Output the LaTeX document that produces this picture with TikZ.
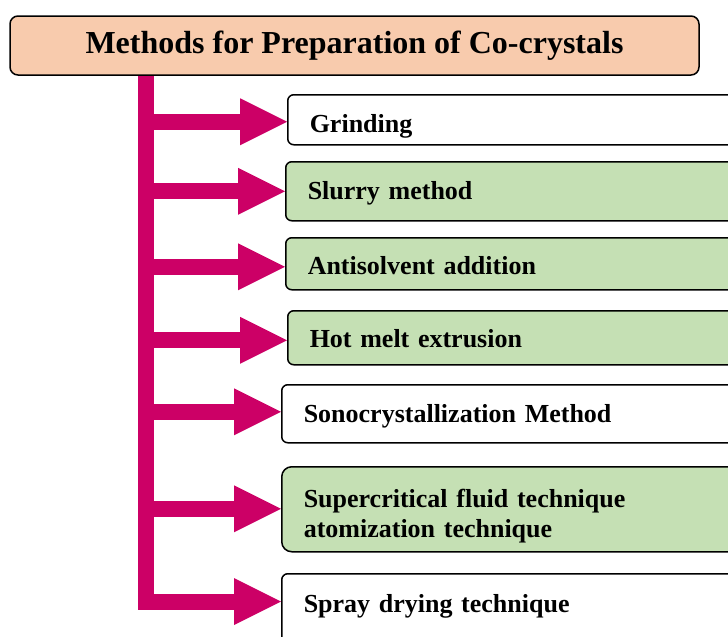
\documentclass[tikz,border=0pt]{standalone}
\usepackage{fontspec}
\setmainfont{Liberation Serif}
\definecolor{titlepeach}{RGB}{248,203,173}
\definecolor{methodgreen}{RGB}{197,224,180}
\definecolor{branchmagenta}{RGB}{204,0,102}
\usetikzlibrary{arrows.meta}

\begin{document}
\begin{tikzpicture}[x=1pt, y=-1pt,
    methodbox/.style={draw=black, line width=1.5pt, rounded corners=6pt,
      anchor=north west, text width=416pt, inner xsep=22pt, inner ysep=0pt,
      text depth=0pt, align=left, font=\fontsize{26}{30}\selectfont\bfseries},
    greenbox/.style={methodbox, fill=methodgreen},
    branch/.style={draw=branchmagenta, line width=16pt, line join=miter,
      -{Triangle[length=47pt, width=47pt, line width=0pt]}}]
    \useasboundingbox (0,0) rectangle (728,637);
    \clip (0,0) rectangle (728,637);

    % Title
    \node[draw=black, line width=1.5pt, fill=titlepeach, rounded corners=8pt,
          minimum width=689pt, minimum height=59pt, inner sep=0pt,
          font=\fontsize{32}{36}\selectfont\bfseries] (title) at (354.5, 45.5)
      {Methods for Preparation of Co-crystals};

    % Methods (boxes run past the right edge)
    \node[methodbox, minimum height=50pt, text height=26pt] (grinding) at (287, 94)
      {Grinding};
    \node[greenbox, minimum height=59pt, text height=17pt] (slurry) at (285, 161)
      {Slurry method};
    \node[greenbox, minimum height=52pt, text height=22pt] (antisolvent) at (285, 237)
      {Antisolvent addition};
    \node[greenbox, minimum height=54pt, text height=20pt] (hotmelt) at (287, 310)
      {Hot melt extrusion};
    \node[methodbox, minimum height=58pt, text height=18pt] (sono) at (281, 384)
      {Sonocrystallization Method};
    \node[greenbox, minimum height=85pt, text height=27pt, text depth=30pt,
          rounded corners=10pt] (supercritical) at (281, 466)
      {Supercritical fluid technique\\atomization technique};
    \node[methodbox, minimum height=70pt, text height=8pt] (spray) at (281, 573)
      {Spray drying technique};

    % Trunk and branches
    \coordinate (trunktop) at (146, 75.8);
    \coordinate (trunkend) at (146, 601.5);
    \draw[branch] (trunktop) -- (trunkend) -- (spray.west |- trunkend);
    \foreach \m/\dy in {grinding/-2, slurry/0, antisolvent/-3, hotmelt/-2.5,
                        sono/2, supercritical/0.5}
      \draw[branch] ([yshift=\dy pt]trunktop |- \m.west) -- ([yshift=\dy pt]\m.west);
\end{tikzpicture}
\end{document}
